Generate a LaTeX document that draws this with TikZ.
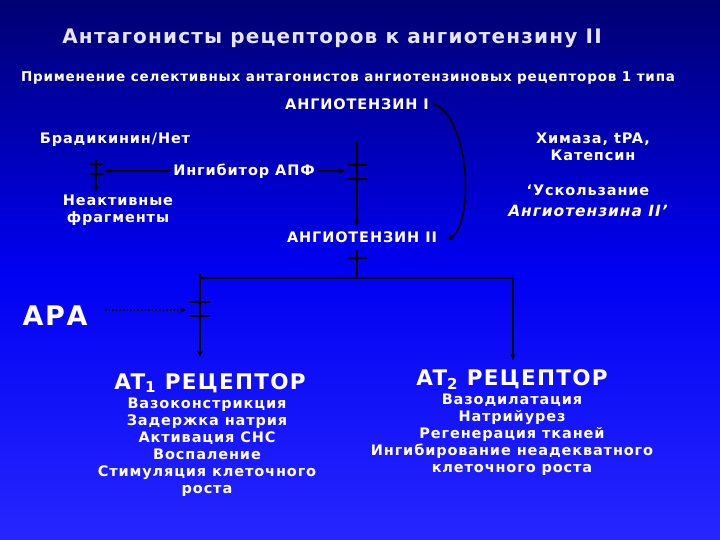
\documentclass[tikz,border=0pt]{standalone}
\usepackage{fontspec}
\setmainfont{DejaVu Sans}[LetterSpace=6]
\usetikzlibrary{arrows.meta}
\begin{document}
\begin{tikzpicture}[x=1pt,y=-1pt,
  txt/.style={text=white,font=\bfseries,align=center,inner sep=0pt},
  ln/.style={draw=black,line width=1.6pt},
  arr/.style={ln,-{Stealth[length=6pt,width=5pt]}},
  bar/.style={draw=black,line width=1.6pt}]
\shade[top color=blue!45!black,bottom color=blue!85!white,middle color=blue!95!black] (0,0) rectangle (720,540);
\useasboundingbox (0,0) rectangle (720,540);
\node[txt,text=white!90!blue,font=\bfseries\fontsize{20}{24}\selectfont] (title) at (332,38) {Антагонисты рецепторов к ангиотензину II};
\node[txt,font=\bfseries\fontsize{13.5}{16}\selectfont] (sub) at (348,78) {Применение селективных антагонистов ангиотензиновых рецепторов 1 типа};
\node[txt,font=\bfseries\fontsize{14.5}{17}\selectfont] (a1) at (357,104) {АНГИОТЕНЗИН I};
\node[txt,font=\bfseries\fontsize{14.5}{17}\selectfont] (brad) at (115,140) {Брадикинин/Нет};
\node[txt,font=\bfseries\fontsize{14.5}{17}\selectfont] (him) at (593,147) {Химаза, tPA,\\Катепсин};
\node[txt,font=\bfseries\fontsize{14.5}{17}\selectfont] (ing) at (244,171) {Ингибитор АПФ};
\node[txt,font=\bfseries\fontsize{14.5}{17}\selectfont] (usk) at (588,190) {‘Ускользание};
\node[txt,text=white!85!yellow,font=\bfseries\itshape\fontsize{15.5}{18}\selectfont] (usk2) at (588,211) {Ангиотензина II’};
\node[txt,font=\bfseries\fontsize{14.5}{17}\selectfont] (frag) at (118,210) {Неактивные\\фрагменты};
\node[txt,font=\bfseries\fontsize{14.5}{17}\selectfont] (a2) at (362,237) {АНГИОТЕНЗИН II};
\node[txt,font=\bfseries\fontsize{27}{30}\selectfont] (ara) at (55,316) {АРА};
\node[txt,font=\bfseries\fontsize{21.5}{24}\selectfont] (at1) at (210,383) {AT\textsubscript{1} РЕЦЕПТОР};
\node[txt,font=\bfseries\fontsize{14.5}{17}\selectfont,anchor=north] (l1) at (207,398) {Вазоконстрикция\\Задержка натрия\\Активация СНС\\Воспаление\\Стимуляция клеточного\\роста};
\node[txt,font=\bfseries\fontsize{21.5}{24}\selectfont] (at2) at (512,380) {AT\textsubscript{2} РЕЦЕПТОР};
\node[txt,font=\bfseries\fontsize{14.5}{17}\selectfont,anchor=north] (l2) at (512,394) {Вазодилатация\\Натрийурез\\Регенерация тканей\\Ингибирование неадекватного\\клеточного роста};
% central path
\coordinate (c1) at (357,142);
\coordinate (c2) at (357,226);
\draw[arr] (c1) -- (c2);
\draw[bar] (347,165) -- (367,165) (347,179) -- (367,179);
\draw[arr] (ing.east) ++(3,0) -- (345,171);
% left
\coordinate (b1) at (96,160);
\coordinate (b2) at (96,192);
\draw[arr] (b1) -- (b2);
\draw[bar] (89,164) -- (103,164) (89,174) -- (103,174);
\draw[arr] (ing.west) ++(-3,0) -- (104,171);
% curve
\draw[arr] (a1.east) ++(4,0) .. controls (470,115) and (475,225) .. (447,240);
% lower
\coordinate (d1) at (357,250);
\coordinate (d2) at (357,278);
\coordinate (dl) at (200,278);
\coordinate (dr) at (513,278);
\draw[ln] (d1) -- (d2);
\draw[bar] (347,258) -- (367,258);
\draw[ln] (dl) -- (dr);
\coordinate (dl2) at (200,357);
\coordinate (dr2) at (513,360);
\draw[arr] (200,274) -- (dl2);
\draw[arr] (dr) -- (dr2);
\draw[bar] (190,302) -- (210,302) (190,316) -- (210,316);
\draw[arr,dotted,line width=2pt] (105,310) -- (186,310);
\end{tikzpicture}
\end{document}
